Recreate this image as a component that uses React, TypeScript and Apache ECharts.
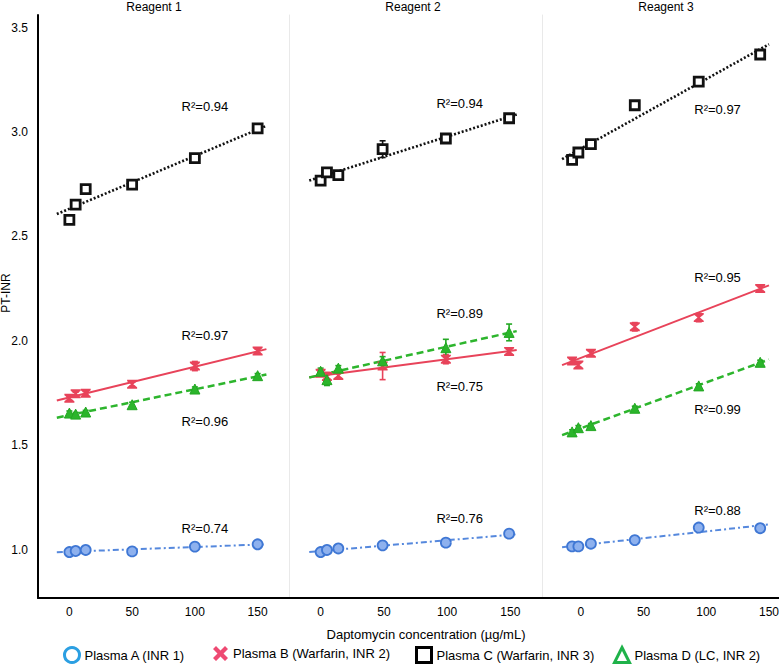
import React, { useEffect, useRef } from 'react';
import * as echarts from 'echarts';

const FONT = '"Liberation Sans", Arial, Helvetica, sans-serif';

const panelTitles = ['Reagent 1', 'Reagent 2', 'Reagent 3'];
const plasmaNames = [
  'Plasma A (INR 1)',
  'Plasma B (Warfarin, INR 2)',
  'Plasma C (Warfarin, INR 3)',
  'Plasma D (LC, INR 2)',
];
const xAxisName = 'Daptomycin concentration (µg/mL)';
const yAxisName = 'PT-INR';

const xTicks = [0, 50, 100, 150];
const yTicks = [1.0, 1.5, 2.0, 2.5, 3.0, 3.5];

// daptomycin concentration per panel (as plotted against each panel's axis)
const concR1 = [0, 5, 13, 50, 100, 150];
const concR2 = [0, 5, 14, 49, 99, 149];
const concR3 = [-7, -2, 8, 43, 94, 143];

// PT-INR per plasma, per reagent
const plasmaA_R1 = [0.99, 0.995, 1.0, 0.993, 1.016, 1.027];
const plasmaA_R2 = [0.99, 1.0, 1.007, 1.022, 1.035, 1.078];
const plasmaA_R3 = [1.017, 1.017, 1.03, 1.047, 1.107, 1.104];

const plasmaB_R1 = [1.726, 1.747, 1.75, 1.793, 1.88, 1.952];
const plasmaB_R2 = [1.845, 1.83, 1.835, 1.88, 1.913, 1.95];
const plasmaB_R3 = [1.904, 1.885, 1.941, 2.068, 2.112, 2.251];

const plasmaC_R1 = [2.58, 2.653, 2.727, 2.748, 2.875, 3.017];
const plasmaC_R2 = [2.767, 2.807, 2.794, 2.918, 2.969, 3.066];
const plasmaC_R3 = [2.867, 2.902, 2.942, 3.128, 3.241, 3.371];

const plasmaD_R1 = [1.655, 1.65, 1.66, 1.695, 1.77, 1.834];
const plasmaD_R2 = [1.855, 1.815, 1.87, 1.905, 1.968, 2.041];
const plasmaD_R3 = [1.565, 1.585, 1.595, 1.678, 1.785, 1.898];

// error bar half-widths (SD)
const errA_R1 = [0.005, 0.005, 0.005, 0.006, 0.006, 0.006];
const errA_R2 = [0.008, 0.01, 0.006, 0.008, 0.01, 0.015];
const errA_R3 = [0.006, 0.006, 0.006, 0.008, 0.01, 0.008];
const errB_R1 = [0.01, 0.008, 0.008, 0.01, 0.022, 0.01];
const errB_R2 = [0.01, 0.02, 0.015, 0.065, 0.022, 0.01];
const errB_R3 = [0.008, 0.012, 0.012, 0.02, 0.02, 0.01];
const errC_R1 = [0.008, 0.008, 0.008, 0.008, 0.008, 0.01];
const errC_R2 = [0.015, 0.01, 0.01, 0.04, 0.012, 0.006];
const errC_R3 = [0.008, 0.008, 0.008, 0.008, 0.01, 0.01];
const errD_R1 = [0.01, 0.008, 0.008, 0.012, 0.01, 0.01];
const errD_R2 = [0.015, 0.028, 0.012, 0.02, 0.04, 0.04];
const errD_R3 = [0.01, 0.01, 0.01, 0.01, 0.01, 0.01];

// R² per plasma (A, B, C, D) per reagent
const r2_R1 = [0.74, 0.97, 0.94, 0.96];
const r2_R2 = [0.76, 0.75, 0.94, 0.89];
const r2_R3 = [0.88, 0.95, 0.97, 0.99];
// R² label anchor (data coords) per plasma
const r2LabelX = [108, 110, 109];
const r2LabelY_R1 = [1.101, 2.025, 3.123, 1.615];
const r2LabelY_R2 = [1.149, 1.782, 3.136, 2.131];
const r2LabelY_R3 = [1.19, 2.303, 3.109, 1.67];

// extent of the regression lines per panel
const fitRange = [
  [-10, 157],
  [-9, 155],
  [-15, 150],
];

const conc = [concR1, concR2, concR3];
const values = [
  [plasmaA_R1, plasmaB_R1, plasmaC_R1, plasmaD_R1],
  [plasmaA_R2, plasmaB_R2, plasmaC_R2, plasmaD_R2],
  [plasmaA_R3, plasmaB_R3, plasmaC_R3, plasmaD_R3],
];
const errors = [
  [errA_R1, errB_R1, errC_R1, errD_R1],
  [errA_R2, errB_R2, errC_R2, errD_R2],
  [errA_R3, errB_R3, errC_R3, errD_R3],
];
const r2 = [r2_R1, r2_R2, r2_R3];
const r2Y = [r2LabelY_R1, r2LabelY_R2, r2LabelY_R3];

const HOURGLASS = 'path://M0,0L10,0L10,1.6L6.2,5L10,8.4L10,10L0,10L0,8.4L3.8,5L0,1.6Z';
const XICON = 'path://M2,0L5,3L8,0L10,2L7,5L10,8L8,10L5,7L2,10L0,8L3,5L0,2Z';

const styles = [
  {
    symbol: 'circle', size: 10, fill: '#8eb1ee', border: '#3f77d4', bw: 1.8, err: '#3f77d4',
    line: { color: '#5588dd', width: 2, type: [6, 3, 2, 3] },
    legend: { icon: 'circle', itemStyle: { color: '#ffffff', borderColor: '#2b9fe2', borderWidth: 3 } },
  },
  {
    symbol: HOURGLASS, size: [10, 9], fill: '#e8435a', border: '#e8435a', bw: 0, err: '#e8435a',
    line: { color: '#e8435a', width: 2, type: 'solid' },
    legend: { icon: XICON, itemStyle: { color: '#ee4a72', borderWidth: 0 } },
  },
  {
    symbol: 'rect', size: 9, fill: '#ffffff', border: '#111111', bw: 2.8, err: '#111111',
    line: { color: '#111111', width: 2.6, type: [2, 2] },
    legend: { icon: 'rect', itemStyle: { color: '#ffffff', borderColor: '#000000', borderWidth: 3 } },
  },
  {
    symbol: 'triangle', size: 10, fill: '#2bb52b', border: '#23a823', bw: 1, err: '#23a823',
    line: { color: '#2db52d', width: 2.5, type: [7, 4] },
    legend: { icon: 'triangle', itemStyle: { color: '#ffffff', borderColor: '#1fb24a', borderWidth: 3 } },
  },
];

const grids = [
  { left: 38, top: 15, width: 251, height: 583 },
  { left: 289, top: 15, width: 253, height: 583 },
  { left: 542, top: 15, width: 237, height: 583 },
];
const xRanges = [
  [-25, 175],
  [-25, 175],
  [-31, 158],
];
const titleX = [154, 413, 666];
const legendLeft = [63, 213, 415, 613];

function linFit(xs: number[], ys: number[]) {
  const n = xs.length;
  const mx = xs.reduce((a, b) => a + b, 0) / n;
  const my = ys.reduce((a, b) => a + b, 0) / n;
  let sxy = 0;
  let sxx = 0;
  for (let i = 0; i < n; i++) {
    sxy += (xs[i] - mx) * (ys[i] - my);
    sxx += (xs[i] - mx) * (xs[i] - mx);
  }
  const slope = sxy / sxx;
  return { slope, intercept: my - slope * mx };
}

function buildOption(): any {
  const series: any[] = [];
  // scatter markers first (legend uses first series with a name)
  for (let k = 0; k < 4; k++) {
    for (let p = 0; p < 3; p++) {
      const s = styles[k];
      series.push({
        type: 'scatter',
        name: plasmaNames[k],
        xAxisIndex: p,
        yAxisIndex: p,
        symbol: s.symbol,
        symbolSize: s.size,
        z: 4,
        itemStyle: { color: s.fill, borderColor: s.border, borderWidth: s.bw, opacity: 1 },
        data: conc[p].map((x, i) => [x, values[p][k][i]]),
      });
    }
  }
  for (let p = 0; p < 3; p++) {
    for (let k = 0; k < 4; k++) {
      const s = styles[k];
      const { slope, intercept } = linFit(conc[p], values[p][k]);
      const [x0, x1] = fitRange[p];
      series.push({
        type: 'line',
        name: 'fit-' + p + '-' + k,
        xAxisIndex: p,
        yAxisIndex: p,
        showSymbol: false,
        symbol: 'none',
        z: 2,
        lineStyle: { ...s.line },
        data: [
          [x0, intercept + slope * x0],
          [x1, intercept + slope * x1],
        ],
      });
      series.push({
        type: 'custom',
        name: 'err-' + p + '-' + k,
        xAxisIndex: p,
        yAxisIndex: p,
        z: 3,
        encode: { x: 0, y: 1 },
        data: conc[p].map((x, i) => [x, values[p][k][i], errors[p][k][i]]),
        renderItem: (params: any, api: any) => {
          const x = api.value(0);
          const y = api.value(1);
          const e = api.value(2);
          const top = api.coord([x, y + e]);
          const bot = api.coord([x, y - e]);
          const w = 3;
          const st = { stroke: s.err, lineWidth: 1.6 };
          return {
            type: 'group',
            children: [
              { type: 'line', shape: { x1: top[0], y1: top[1], x2: bot[0], y2: bot[1] }, style: st },
              { type: 'line', shape: { x1: top[0] - w, y1: top[1], x2: top[0] + w, y2: top[1] }, style: st },
              { type: 'line', shape: { x1: bot[0] - w, y1: bot[1], x2: bot[0] + w, y2: bot[1] }, style: st },
            ],
          };
        },
      });
    }
    series.push({
      type: 'scatter',
      name: 'r2-' + p,
      xAxisIndex: p,
      yAxisIndex: p,
      symbolSize: 1,
      z: 5,
      itemStyle: { color: 'transparent', opacity: 1 },
      label: {
        show: true,
        position: 'inside',
        formatter: '{b}',
        fontSize: 13,
        color: '#000',
        opacity: 1,
        textBorderWidth: 0,
        fontFamily: FONT,
      },
      data: r2[p].map((v, k) => ({
        name: 'R²=' + v.toFixed(2),
        value: [r2LabelX[p], r2Y[p][k]],
      })),
    });
  }

  const graphic: any[] = panelTitles.map((t, i) => ({
    type: 'text',
    x: titleX[i],
    y: 7,
    style: {
      text: t,
      textAlign: 'center',
      textVerticalAlign: 'middle',
      fontSize: 12,
      fontFamily: FONT,
      fill: '#000',
    },
  }));
  graphic.push({
    type: 'text',
    x: 426,
    y: 634,
    style: {
      text: xAxisName,
      textAlign: 'center',
      textVerticalAlign: 'middle',
      fontSize: 13,
      fontFamily: FONT,
      fill: '#000',
    },
  });
  graphic.push({
    type: 'text',
    x: 6,
    y: 293,
    rotation: Math.PI / 2,
    style: {
      text: yAxisName,
      textAlign: 'center',
      textVerticalAlign: 'middle',
      fontSize: 12,
      fontFamily: FONT,
      fill: '#000',
    },
  });

  return {
    animation: false,
    backgroundColor: '#ffffff',
    textStyle: { fontFamily: FONT },
    grid: grids.map((g) => ({ ...g, containLabel: false, outerBoundsMode: 'none' })),
    xAxis: grids.map((_, i) => ({
      type: 'value',
      gridIndex: i,
      min: xRanges[i][0],
      max: xRanges[i][1],
      axisLine: { show: true, onZero: false, lineStyle: { color: '#000', width: 2 } },
      axisTick: { show: false },
      splitLine: { show: false },
      axisLabel: {
        customValues: xTicks,
        fontSize: 12,
        color: '#000',
        fontFamily: FONT,
        margin: 8,
      },
    })),
    yAxis: grids.map((_, i) => ({
      type: 'value',
      gridIndex: i,
      min: 0.77,
      max: 3.56,
      axisLine: {
        show: true,
        onZero: false,
        lineStyle: i === 0 ? { color: '#000', width: 2 } : { color: '#e9e9e9', width: 1 },
      },
      axisTick: { show: false },
      splitLine: { show: false },
      axisLabel:
        i === 0
          ? {
              customValues: yTicks,
              formatter: (v: number) => v.toFixed(1),
              fontSize: 12,
              color: '#000',
              fontFamily: FONT,
              margin: 10,
            }
          : { show: false },
    })),
    legend: plasmaNames.map((n, k) => ({
      left: legendLeft[k],
      top: 646,
      padding: 0,
      itemWidth: 15,
      itemHeight: 15,
      selectedMode: false,
      textStyle: { fontSize: 13, color: '#000', fontFamily: FONT },
      data: [{ name: n, icon: styles[k].legend.icon, itemStyle: styles[k].legend.itemStyle }],
    })),
    graphic,
    series,
  };
}

export default function App() {
  const ref = useRef<HTMLDivElement>(null);
  useEffect(() => {
    document.body.style.margin = '0';
    const chart = echarts.init(ref.current as HTMLDivElement, null, { renderer: 'svg' });
    chart.setOption(buildOption());
    return () => chart.dispose();
  }, []);
  return <div ref={ref} style={{ width: 779, height: 665 }} />;
}
